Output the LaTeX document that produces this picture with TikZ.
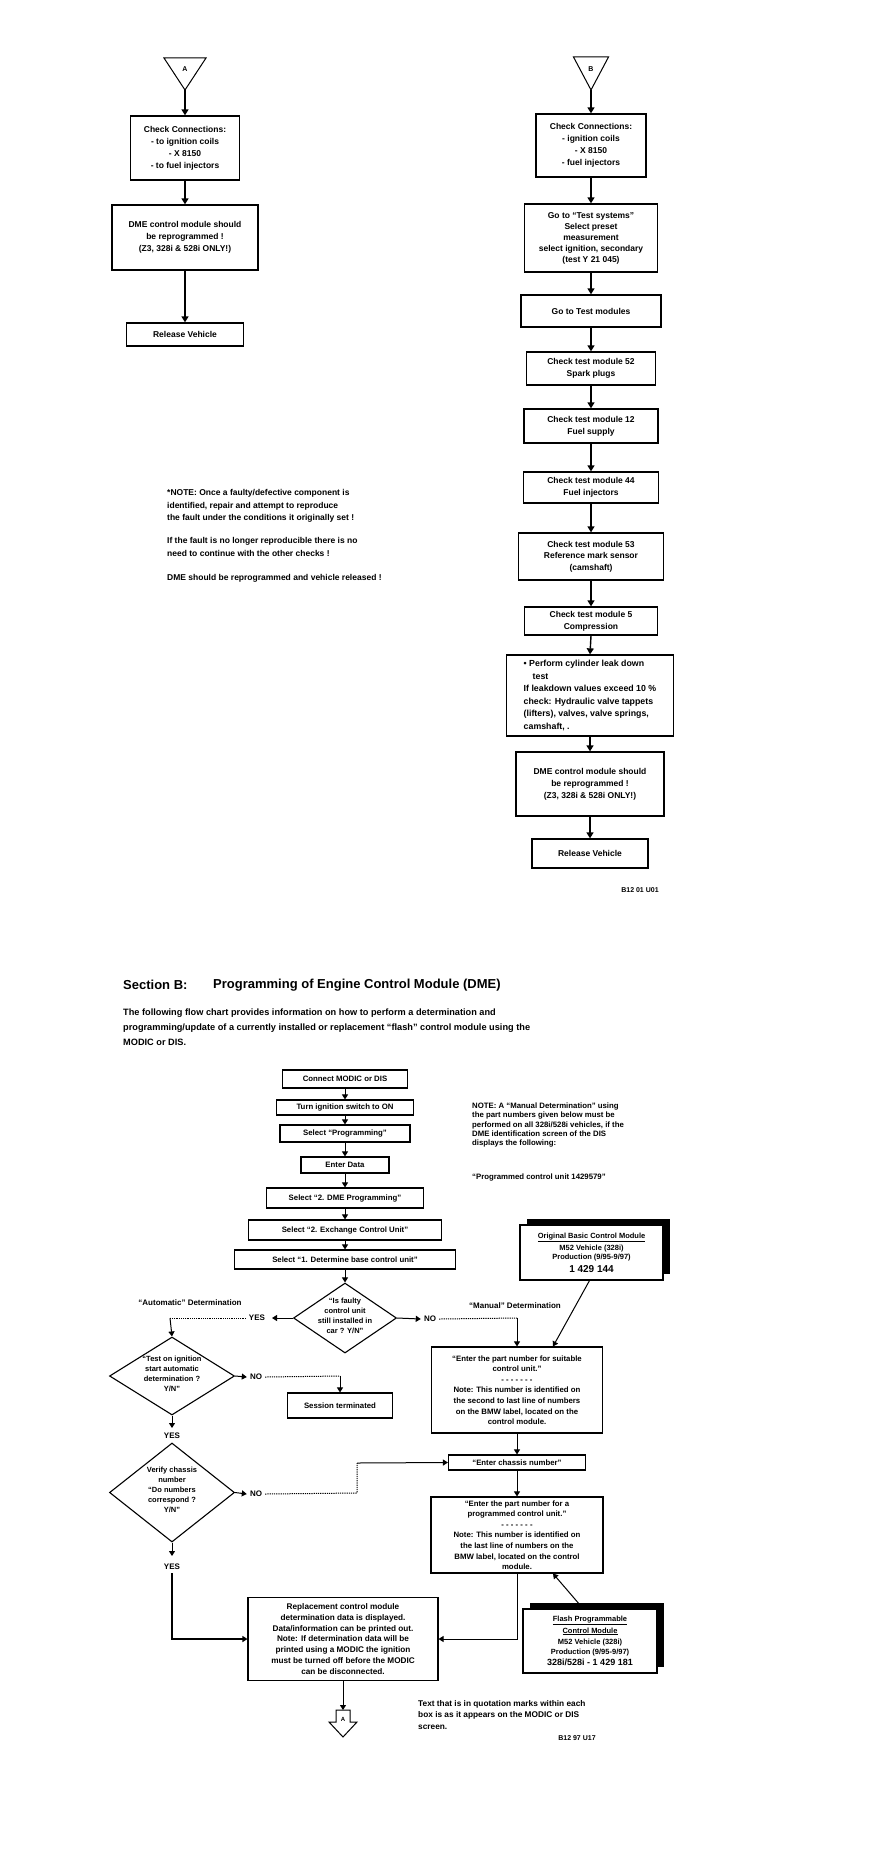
\documentclass[tikz,border=0pt]{standalone}
\usepackage{fontspec}
\setmainfont{Liberation Sans}
\usetikzlibrary{arrows.meta,shapes.geometric,shadows}
\begin{document}
\begin{tikzpicture}[x=1pt,y=-1pt,
  every node/.style={font=\bfseries},
  tbox/.style={draw, line width=1.3pt, align=center, inner sep=0pt, font=\bfseries\fontsize{8.5}{12}\selectfont},
  sbox/.style={draw, line width=1.1pt, align=center, inner sep=0pt, font=\bfseries\fontsize{7.8}{10.6}\selectfont},
  shbox/.style={sbox, fill=white, drop shadow={shadow xshift=7pt, shadow yshift=6pt, opacity=1, fill=black}},
  arr/.style={line width=1.4pt, -{Triangle[length=6pt,width=7pt]}},
  sarr/.style={line width=1pt, -{Triangle[length=5pt,width=6pt]}},
  dl/.style={line width=1pt, dash pattern=on 1.2pt off 1pt},
  dia/.style={draw, diamond, line width=1.1pt, inner sep=0pt},
  dtext/.style={align=center, inner sep=0pt, font=\bfseries\fontsize{7.5}{10}\selectfont},
  lbl/.style={inner sep=0pt, font=\bfseries\fontsize{8}{9.2}\selectfont},
  tiny/.style={inner sep=0pt, font=\bfseries\fontsize{7}{8}\selectfont},
]
\fill[white] (0,0) rectangle (880,1868);
\useasboundingbox (0,0) rectangle (880,1868);

% ---------------- top left (A) ----------------
\draw[line width=1pt] (164,58) -- (206,58) -- (185,90) -- cycle;
\node[tiny] (la) at (185,69) {A};
\coordinate (tA) at (185,90);
\node[tbox, minimum width=109pt, minimum height=64pt] (a1) at (185,148) {Check Connections:\\- to ignition coils\\- X 8150\\- to fuel injectors};
\node[tbox, minimum width=146pt, minimum height=65pt] (a2) at (185,237.5) {DME control module should\\be reprogrammed !\\(Z3, 328i \& 528i ONLY!)};
\node[tbox, minimum width=117pt, minimum height=23pt] (a3) at (185,334.5) {Release Vehicle};
\draw[arr] (tA) -- (a1.north);
\draw[arr] (a1.south) -- (a2.north);
\draw[arr] (a2.south) -- (a3.north);

% ---------------- right column (B) ----------------
\draw[line width=1pt] (573.5,57) -- (608.5,57) -- (591,90) -- cycle;
\node[tiny] (lb) at (591,69) {B};
\coordinate (tB) at (591,90);
\node[tbox, minimum width=110pt, minimum height=63pt] (b1) at (591,145.5) {Check Connections:\\- ignition coils\\- X 8150\\- fuel injectors};
\node[tbox, minimum width=133pt, minimum height=68pt, font=\bfseries\fontsize{8.5}{11}\selectfont] (b2) at (591,238) {Go to “Test systems”\\Select preset\\measurement\\select ignition, secondary\\(test Y 21 045)};
\node[tbox, minimum width=140pt, minimum height=32pt] (b3) at (591,311) {Go to Test modules};
\node[tbox, minimum width=129pt, minimum height=33pt] (b4) at (591,368.5) {Check test module 52\\Spark plugs};
\node[tbox, minimum width=134pt, minimum height=34pt] (b5) at (591,426) {Check test module 12\\Fuel supply};
\node[tbox, minimum width=135pt, minimum height=31pt] (b6) at (591,487.5) {Check test module 44\\Fuel injectors};
\node[tbox, minimum width=145pt, minimum height=47pt, font=\bfseries\fontsize{8.5}{11.5}\selectfont] (b7) at (591,556.5) {Check test module 53\\Reference mark sensor\\(camshaft)};
\node[tbox, minimum width=133pt, minimum height=28pt] (b8) at (591,621) {Check test module 5\\Compression};
\node[tbox, minimum width=167pt, minimum height=81pt, align=left, font=\bfseries\fontsize{8.8}{12.6}\selectfont] (b9) at (590,695.5) {• Perform cylinder leak down\\\hspace*{9pt}test\\If leakdown values exceed 10 \%\\check: Hydraulic valve tappets\\(lifters), valves, valve springs,\\camshaft, .};
\node[tbox, minimum width=148pt, minimum height=64pt] (b10) at (590,784) {DME control module should\\be reprogrammed !\\(Z3, 328i \& 528i ONLY!)};
\node[tbox, minimum width=116pt, minimum height=29pt] (b11) at (590,853.5) {Release Vehicle};
\node[tiny] (code1) at (640,890) {B12 01 U01};
\draw[arr] (tB) -- (b1.north);
\draw[arr] (b1.south) -- (b2.north);
\draw[arr] (b2.south) -- (b3.north);
\draw[arr] (b3.south) -- (b4.north);
\draw[arr] (b4.south) -- (b5.north);
\draw[arr] (b5.south) -- (b6.north);
\draw[arr] (b6.south) -- (b7.north);
\draw[arr] (b7.south) -- (b8.north);
\draw[arr] (b8.south) -- (b9.north);
\draw[arr] (b9.south) -- (b10.north);
\draw[arr] (b10.south) -- (b11.north);

% ---------------- note ----------------
\node[anchor=north west, align=left, inner sep=0pt, font=\bfseries\fontsize{8.5}{12.8}\selectfont] (note1) at (167,489) {*NOTE: Once a faulty/defective component is\\identified, repair and attempt to reproduce\\the fault under the conditions it originally set !\\[10pt]If the fault is no longer reproducible there is no\\need to continue with the other checks !\\[11pt]DME should be reprogrammed and vehicle released !};

% ---------------- Section B ----------------
\node[anchor=west, inner sep=0pt, font=\bfseries\fontsize{13}{15}\selectfont] (secB) at (123,985) {Section B:};
\node[anchor=west, inner sep=0pt, font=\bfseries\fontsize{13}{15}\selectfont] (secT) at (213,985) {Programming of Engine Control Module (DME)};
\node[anchor=north west, align=left, inner sep=0pt, font=\bfseries\fontsize{9.2}{14.8}\selectfont] (para) at (123,1009) {The following flow chart provides information on how to perform a determination and\\programming/update of a currently installed or replacement “flash” control module using the\\MODIC or DIS.};

\node[sbox, minimum width=125pt, minimum height=18pt] (c1) at (345,1079) {Connect MODIC or DIS};
\node[sbox, minimum width=137pt, minimum height=15pt] (c2) at (345,1107.5) {Turn ignition switch to ON};
\node[sbox, minimum width=130pt, minimum height=17pt] (c3) at (345,1133.5) {Select “Programming”};
\node[sbox, minimum width=88pt, minimum height=16pt] (c4) at (345,1165) {Enter Data};
\node[sbox, minimum width=157pt, minimum height=20pt] (c5) at (345,1198) {Select “2. DME Programming”};
\node[sbox, minimum width=193pt, minimum height=20pt] (c6) at (345,1230) {Select “2. Exchange Control Unit”};
\node[sbox, minimum width=221pt, minimum height=19pt] (c7) at (345,1259.5) {Select “1. Determine base control unit”};
\draw[sarr] (c1.south) -- (c2.north);
\draw[sarr] (c2.south) -- (c3.north);
\draw[sarr] (c3.south) -- (c4.north);
\draw[sarr] (c4.south) -- (c5.north);
\draw[sarr] (c5.south) -- (c6.north);
\draw[sarr] (c6.south) -- (c7.north);

\node[dia, minimum width=103pt, minimum height=70pt] (d1) at (345,1318) {};
\node[dtext] (d1t) at (345,1316) {“Is faulty\\control unit\\still installed in\\car ? Y/N”};
\draw[sarr] (c7.south) -- (d1.north);

\node[lbl] (autol) at (190,1303) {“Automatic” Determination};
\node[lbl] (yes1) at (257,1318) {YES};
\coordinate (yt1) at (272,1318);
\draw[sarr] (d1.west) -- (yt1);
\coordinate (k1) at (170,1318);
\draw[dl] ([xshift=-3pt]yes1.west) -- (k1);

\node[dia, minimum width=125pt, minimum height=78pt] (d2) at (172,1376) {};
\node[dtext] (d2t) at (172,1374) {“Test on ignition\\start automatic\\determination ?\\Y/N”};
\draw[sarr] (k1) -- (d2.north);

\node[lbl] (no2) at (256,1377) {NO};
\draw[sarr] (d2.east) -- ([xshift=-3pt]no2.west);
\node[sbox, minimum width=105pt, minimum height=25pt] (st) at (340,1405.5) {Session terminated};
\coordinate (k2) at (340,1376);
\draw[dl] ([xshift=3pt]no2.east) -- (k2);
\draw[sarr] (k2) -- (st.north);

\coordinate (yt2) at (172,1428);
\draw[sarr] (d2.south) -- (yt2);
\node[lbl] (yes2) at (172,1436) {YES};

\node[dia, minimum width=125pt, minimum height=99pt] (d3) at (172,1492.5) {};
\node[dtext] (d3t) at (172,1490) {Verify chassis\\number\\“Do numbers\\correspond ?\\Y/N”};

\node[lbl] (no3) at (256,1494) {NO};
\draw[sarr] (d3.east) -- ([xshift=-3pt]no3.west);

\coordinate (yt3) at (172,1556);
\draw[sarr] (d3.south) -- (yt3);
\node[lbl] (yes3) at (172,1567) {YES};

\node[sbox, minimum width=190pt, minimum height=83pt, font=\bfseries\fontsize{8.2}{10.8}\selectfont] (r) at (343,1639) {Replacement control module\\determination data is displayed.\\Data/information can be printed out.\\Note: If determination data will be\\printed using a MODIC the ignition\\must be turned off before the MODIC\\can be disconnected.};
\draw[sarr, line width=1.3pt] ([yshift=-3pt]yes3.south) -- (172,1639) -- (r.west);

% end connector A
\draw[line width=1pt, fill=white] (336,1710) -- (350,1710) -- (350,1722) -- (357,1722) -- (343,1737) -- (329,1722) -- (336,1722) -- cycle;
\node[inner sep=0pt, font=\bfseries\fontsize{6}{6}\selectfont] (ea) at (343,1719) {A};
\coordinate (eat) at (343,1710);
\draw[sarr] (r.south) -- (eat);

% right side
\node[anchor=north west, align=left, inner sep=0pt, font=\bfseries\fontsize{7.8}{9.1}\selectfont] (note2) at (472,1103) {NOTE: A “Manual Determination” using\\the part numbers given below must be\\performed on all 328i/528i vehicles, if the\\DME identification screen of the DIS\\displays the following:\\[25pt]“Programmed control unit 1429579”};

\node[shbox, minimum width=143pt, minimum height=55pt, font=\bfseries\fontsize{7.5}{9.5}\selectfont] (sh1) at (591.5,1252.5) {\underline{Original Basic Control Module}\\[2.5pt]M52 Vehicle (328i)\\Production (9/95-9/97)\\[3pt]{\fontsize{10}{12}\selectfont 1 429 144}};

\node[lbl] (manl) at (515,1306) {“Manual” Determination};
\node[lbl] (no1) at (430,1319) {NO};
\draw[sarr] (d1.east) -- ([xshift=-3pt]no1.west);

\node[sbox, minimum width=171pt, minimum height=86pt] (e1) at (517,1390) {“Enter the part number for suitable\\control unit.”\\- - - - - - -\\Note: This number is identified on\\the second to last line of numbers\\on the BMW label, located on the\\control module.};
\coordinate (k3) at (517,1318);
\draw[dl] ([xshift=3pt]no1.east) -- (k3);
\draw[sarr] (k3) -- (e1.north);
\draw[sarr] ([xshift=-2pt]sh1.south) -- ([xshift=36pt]e1.north);

\node[sbox, minimum width=137pt, minimum height=15pt] (ch) at (517,1462.5) {“Enter chassis number”};
\draw[sarr] (e1.south) -- (ch.north);
\draw[dl] ([xshift=3pt]no3.east) -- (357,1493) -- (357,1463);
\draw[sarr] (357,1463) -- (ch.west);

\node[sbox, minimum width=172pt, minimum height=76pt] (e2) at (517,1535) {“Enter the part number for a\\programmed control unit.”\\- - - - - - -\\Note: This number is identified on\\the last line of numbers on the\\BMW label, located on the control\\module.};
\draw[sarr] (ch.south) -- (e2.north);
\draw[sarr] (e2.south) -- (517,1639) -- (r.east);

\node[shbox, minimum width=134pt, minimum height=64pt, font=\bfseries\fontsize{7.5}{9.3}\selectfont] (sh2) at (590,1641) {\underline{Flash Programmable}\\[2.5pt]\underline{Control Module}\\[2.5pt]M52 Vehicle (328i)\\Production (9/95-9/97)\\[2.5pt]{\fontsize{9}{11}\selectfont 328i/528i - 1 429 181}};
\draw[sarr] ([xshift=-7pt]sh2.north) -- ([xshift=36pt]e2.south);

\node[anchor=north west, align=left, inner sep=0pt, font=\bfseries\fontsize{8.3}{11.5}\selectfont] (foot) at (418,1700) {Text that is in quotation marks within each\\box is as it appears on the MODIC or DIS\\screen.};
\node[tiny] (code2) at (577,1738) {B12 97 U17};
\end{tikzpicture}
\end{document}
